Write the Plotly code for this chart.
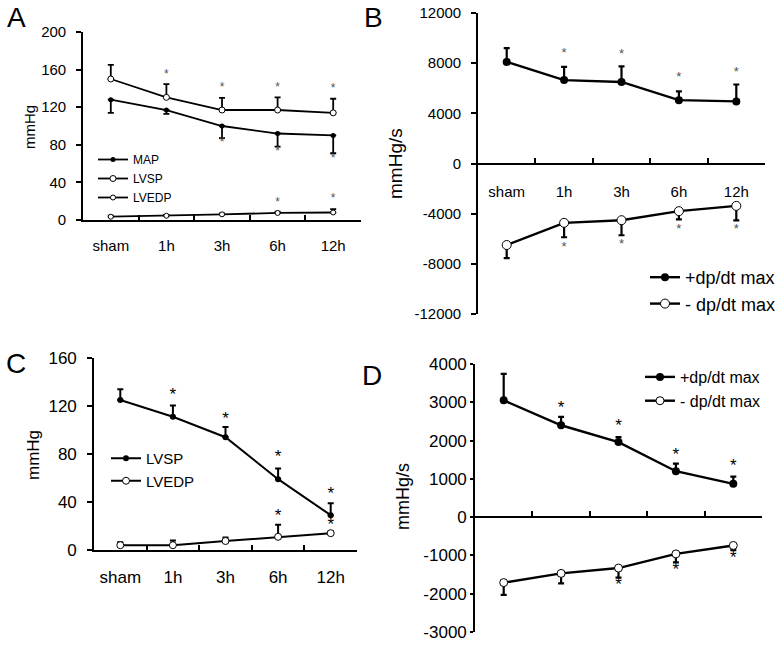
import plotly.graph_objects as go

W, H = 781, 666
FONT = "Liberation Sans, Arial, sans-serif"

cats = ["sham", "1h", "3h", "6h", "12h"]

# ---------------- Panel A ----------------
a_map = [128, 117, 100, 92, 90]
a_map_err = [14, 4, 13, 14, 19]          # downward
a_lvsp = [150, 130.5, 117, 117, 114]
a_lvsp_err = [15, 14, 13, 13.5, 15]      # upward
a_lvedp = [3.5, 4.5, 6, 7.5, 8]
a_lvedp_err = [1, 1, 1, 1.5, 3.5]        # upward
a_star_lvsp = [None, 154, 140, 140, 139]
a_star_map = [None, None, 82, 72, 65]
a_star_lvedp = [None, None, None, 18, 22]
a_yticks = [0, 40, 80, 120, 160, 200]

# ---------------- Panel B ----------------
b_pos = [8100, 6650, 6500, 5050, 4950]
b_pos_err = [1100, 1050, 1250, 700, 1350]
b_neg = [-6500, -4730, -4520, -3800, -3380]
b_neg_err = [1050, 1150, 1200, 650, 1150]
b_star_pos = [None, 8750, 8700, 6850, 7250]
b_star_neg = [None, -6700, -6500, -5300, -5300]
b_yticks = [-12000, -8000, -4000, 0, 4000, 8000, 12000]

# ---------------- Panel C ----------------
c_lvsp = [125, 111, 94, 59, 29]
c_lvsp_err = [9, 9.5, 8.5, 9, 10]
c_lvedp = [4, 4, 7.5, 11, 14]
c_lvedp_err = [2.5, 4, 3, 10, 1.5]
c_star_lvsp = [None, 128.5, 108.5, 76.5, 46]
c_star_lvedp = [None, None, None, 27.5, 20]
c_yticks = [0, 40, 80, 120, 160]

# ---------------- Panel D ----------------
d_pos = [3050, 2400, 1960, 1200, 870]
d_pos_err = [690, 220, 130, 200, 190]
d_neg = [-1710, -1470, -1330, -960, -740]
d_neg_err = [320, 260, 250, 220, 120]
d_star_pos = [None, 2840, 2360, 1610, 1310]
d_star_neg = [None, None, -1790, -1410, -1090]
d_yticks = [-3000, -2000, -1000, 0, 1000, 2000, 3000, 4000]


def px(x):
    return x / W


def py(y):
    return 1 - y / H


def fmt(v):
    return str(v)  # plain hyphen minus, no thousands separator


fig = go.Figure()


def series(xa, ya, y, up, down, filled, size, lw, name, legend, ethick, ewidth):
    zeros = [0] * len(y)
    fig.add_trace(go.Scatter(
        x=cats, y=y, xaxis=xa, yaxis=ya, mode="lines+markers", name=name,
        legend=legend, hoverinfo="skip",
        line=dict(color="black", width=lw),
        marker=dict(symbol="circle", size=size,
                    color="black" if filled else "white",
                    line=dict(color="black", width=1 if not filled else 0)),
        error_y=dict(type="data", symmetric=False,
                     array=up if up is not None else zeros,
                     arrayminus=down if down is not None else zeros,
                     color="black", thickness=ethick, width=ewidth),
    ))


def stars(xa, ya, lists, size, color):
    xs, ys = [], []
    for lst in lists:
        for c, v in zip(cats, lst):
            if v is not None:
                xs.append(c)
                ys.append(v)
    fig.add_trace(go.Scatter(
        x=xs, y=ys, xaxis=xa, yaxis=ya, mode="text", text=["*"] * len(ys),
        textposition="middle center",
        textfont=dict(size=size, color=color, family=FONT),
        showlegend=False, hoverinfo="skip"))


# A
series("x", "y", a_map, None, a_map_err, True, 5, 1.8, "MAP", "legend", 1.8, 3)
series("x", "y", a_lvsp, a_lvsp_err, None, False, 6, 1.8, "LVSP", "legend", 1.8, 3)
series("x", "y", a_lvedp, a_lvedp_err, None, False, 5, 1.8, "LVEDP", "legend", 1.8, 3)
stars("x", "y", [a_star_lvsp, a_star_map, a_star_lvedp], 12, "#555555")

# B
series("x2", "y2", b_pos, b_pos_err, None, True, 8, 2.4, "+dp/dt max", "legend2", 2.2, 3)
series("x2", "y2", b_neg, None, b_neg_err, False, 9, 2.4, "- dp/dt max", "legend2", 2.2, 3)
stars("x2", "y2", [b_star_pos, b_star_neg], 13, "#555555")

# C
series("x3", "y3", c_lvsp, c_lvsp_err, None, True, 6, 2, "LVSP", "legend3", 2, 3)
series("x3", "y3", c_lvedp, c_lvedp_err, None, False, 7, 2, "LVEDP", "legend3", 2, 3)
stars("x3", "y3", [c_star_lvsp, c_star_lvedp], 17, "#000000")

# D
series("x4", "y4", d_pos, d_pos_err, None, True, 8, 2.4, "+dp/dt max", "legend4", 2.2, 3)
series("x4", "y4", d_neg, None, d_neg_err, False, 8, 2.4, "- dp/dt max", "legend4", 2.2, 3)
stars("x4", "y4", [d_star_pos, d_star_neg], 17, "#000000")


def xcat(domain, fs, standoff, **kw):
    d = dict(domain=domain, type="category", categoryorder="array", categoryarray=cats,
             range=[-0.5, 4.5], tickson="boundaries", ticks="inside", ticklen=5,
             tickwidth=1.5, tickcolor="black", showline=True, linewidth=1.6,
             linecolor="black", showgrid=False, zeroline=False, automargin=False,
             tickfont=dict(size=fs, color="black", family=FONT),
             ticklabelstandoff=standoff)
    d.update(kw)
    return d


def ylin(domain, rng, ticks, fs, anchor, standoff, ticklen=5):
    return dict(domain=domain, anchor=anchor, range=rng, tickmode="array", tickvals=ticks,
                ticktext=[fmt(t) for t in ticks], ticks="outside", ticklen=ticklen,
                tickwidth=1.5, tickcolor="black", showline=True, linewidth=1.6,
                linecolor="black", showgrid=False, zeroline=False, automargin=False,
                ticklabelstandoff=standoff,
                tickfont=dict(size=fs, color="black", family=FONT))


xA = [px(83), px(361)]
yA = [py(220), py(32)]
xB = [px(478), px(765)]
yB = [py(314), py(13)]
xC = [px(94), px(357)]
yC = [py(550), py(358)]
xD = [px(475), px(762)]
yD = [py(632), py(364)]

fig.update_layout(
    width=W, height=H, autosize=False,
    margin=dict(l=0, r=0, t=0, b=0, pad=0),
    paper_bgcolor="white", plot_bgcolor="rgba(0,0,0,0)",
    font=dict(family=FONT, color="black"),
    xaxis=xcat(xA, 15, 11, anchor="y"),
    yaxis=ylin(yA, [0, 200], a_yticks, 15, "x", 7),
    xaxis2=xcat(xB, 15, 15, anchor="free", position=py(163.5)),
    yaxis2=ylin(yB, [-12000, 12000], b_yticks, 15, "x2", 7),
    xaxis3=xcat(xC, 17, 11, anchor="y3"),
    yaxis3=ylin(yC, [0, 160], c_yticks, 17, "x3", 7),
    xaxis4=xcat(xD, 16, 0, anchor="free", position=py(517), showticklabels=False),
    yaxis4=ylin(yD, [-3000, 4000], d_yticks, 17, "x4", 0, ticklen=3),
    xaxis5=dict(domain=xD, overlaying="x4", anchor="free", position=py(632), type="linear",
                range=[-0.5, 4.5], tickmode="array", tickvals=[0, 1, 2, 3, 4], ticktext=cats,
                showline=False, ticks="", showgrid=False, zeroline=False, automargin=False,
                tickfont=dict(size=16, color="black", family=FONT), ticklabelstandoff=21),
    legend=dict(x=px(93), y=py(145), xanchor="left", yanchor="top",
                font=dict(size=12, family=FONT), bgcolor="rgba(0,0,0,0)", itemwidth=30,
                tracegroupgap=0),
    legend2=dict(x=px(645), y=py(259), xanchor="left", yanchor="top",
                 font=dict(size=18, family=FONT), bgcolor="rgba(0,0,0,0)", itemwidth=30),
    legend3=dict(x=px(106), y=py(442), xanchor="left", yanchor="top",
                 font=dict(size=15, family=FONT), bgcolor="rgba(0,0,0,0)", itemwidth=30),
    legend4=dict(x=px(640), y=py(360), xanchor="left", yanchor="top",
                 font=dict(size=16, family=FONT), bgcolor="rgba(0,0,0,0)", itemwidth=30),
    showlegend=True,
)

ann = []
for t, x, y in [("A", 16, 18), ("B", 373, 18), ("C", 16, 363), ("D", 372, 375)]:
    ann.append(dict(text=t, x=px(x), y=py(y), xref="paper", yref="paper", showarrow=False,
                    xanchor="center", yanchor="middle", font=dict(size=28, family=FONT)))
for t, x, y, s in [("mmHg", 30, 127, 15), ("mmHg/s", 395, 163, 19),
                   ("mmHg", 33, 455, 17), ("mmHg/s", 403, 497, 18)]:
    ann.append(dict(text=t, x=px(x), y=py(y), xref="paper", yref="paper", showarrow=False,
                    textangle=-90, xanchor="center", yanchor="middle",
                    font=dict(size=s, family=FONT)))
fig.update_layout(annotations=ann)

# remove the browser's default 8px body margin so the figure fills the window
fig.write_html("out.html", config={"displayModeBar": False},
               post_script="document.body.style.margin='0px';")
